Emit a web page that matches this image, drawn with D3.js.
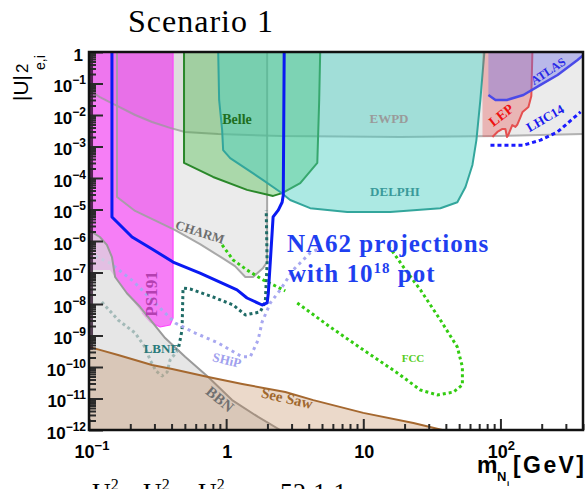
<!DOCTYPE html>
<html>
<head>
<meta charset="utf-8">
<script src="https://cdn.jsdelivr.net/npm/d3@7"></script>
<style>
  body { margin: 0; background: #fff; }
  svg { display: block; }
  .serif { font-family: "Liberation Serif", "Times New Roman", serif; font-weight: bold; }
  .sans { font-family: "Liberation Sans", Arial, sans-serif; font-weight: bold; }
</style>
</head>
<body>
<svg id="chart" width="587" height="489"></svg>
<script>
// all points are [mass in GeV, |U|^2]
const ewpdEdge = [[0.1,0.062],[0.12,0.037],[0.155,0.021],[0.217,0.01],[0.288,6e-3],[0.39,3.9e-3],[0.5,2.9e-3],[0.875,2.5e-3],[2.5,2.15e-3],[18.6,2e-3],[100,2.15e-3],[400,2.5e-3]];
const charmEdge = [[0.16,1],[0.16,2.5e-5],[0.217,9e-6],[0.425,2.2e-6],[0.645,8e-7],[0.935,2.9e-7],[1.16,1.6e-7],[1.38,7.2e-8],[1.57,7.2e-8],[1.86,1.4e-7],[1.99,2.15e-7],[1.99,1]];
const ps191Edge = [[0.41,1],[0.41,3.6e-9],[0.39,2.15e-9],[0.33,1.86e-9],[0.279,2.7e-9],[0.244,5.2e-9],[0.189,2.2e-8],[0.155,7.2e-8],[0.142,1.2e-7],[0.1,1.2e-7]];
const bbnEdge = [[0.1,2.2e-6],[0.12,1.34e-6],[0.135,7.5e-7],[0.147,3.1e-7],[0.155,7.2e-8],[0.189,2.2e-8],[0.236,8e-9],[0.359,8.3e-10],[0.502,2.1e-10],[0.74,4.8e-11],[1.105,8.9e-12],[1.71,2.6e-12],[2.48,1e-12]];
const seeSawEdge = [[0.1,4.3e-10],[0.12,3.5e-10],[0.163,2.4e-10],[0.288,1.16e-10],[0.404,8.6e-11],[0.74,4.8e-11],[1.31,2.9e-11],[2.7,1.6e-11],[4.32,8.9e-12],[10,3.5e-12],[23.2,1.67e-12],[37.7,1e-12]];
const belleEdge = [[0.493,1],[0.493,3e-4],[0.803,1.08e-4],[1.42,4.2e-5],[2.2,2.7e-5],[2.56,3.3e-5],[3.47,6.9e-5],[4.62,3e-4],[4.77,0.03],[4.85,1]];
const delphiEdge = [[0.875,1],[0.889,0.03],[0.935,3.3e-3],[0.951,7.7e-4],[1.07,4.3e-4],[1.86,8.6e-5],[2.48,3.6e-5],[2.93,2e-5],[4.1,1.1e-5],[7.64,8.3e-6],[15.7,8.3e-6],[36.5,1.1e-5],[48.5,1.7e-5],[55.6,5.2e-5],[62.5,2.6e-4],[66.8,1.6e-3],[71.4,0.03],[76.4,1]];
const lepEdge = [[171,1],[168,0.04],[160,0.018],[145,0.0125],[140,8.6e-3],[133,5e-3],[128.6,4.2e-3],[122,4.8e-3],[114,2.3e-3],[111.6,2e-3],[108.7,3.6e-3],[103.5,3.6e-3],[95,2.9e-3],[87.5,2e-3],[74,2e-3]];
const atlasEdge = [[81.7,0.043],[92,0.03],[111.6,0.03],[147,0.043],[196,0.09],[261,0.186],[365,0.557],[400,0.78]];
const lhc14Line = [[84.6,1.1e-3],[147,1.1e-3],[196,1.6e-3],[261,2.9e-3],[384,0.0125]];
const na62Line = [[0.147,1],[0.147,5.8e-6],[0.206,1.34e-6],[0.288,5.6e-7],[0.41,2.15e-7],[0.645,9.6e-8],[0.935,4.6e-8],[1.2,2.8e-8],[1.42,1.55e-8],[1.83,9.3e-9],[1.99,1.08e-8],[2.03,2.2e-8],[2.17,2.2e-6],[2.2,5.8e-6],[2.4,9.6e-6],[2.56,1.7e-5],[2.61,2.9e-5],[2.65,1]];
const shipLine = [[0.1,4.2e-7],[0.142,2e-7],[0.209,5.4e-8],[0.313,9.3e-9],[0.425,2.5e-9],[0.594,1.2e-9],[0.875,5.8e-10],[1.31,2.1e-10],[1.5,2.1e-10],[1.71,7.2e-10],[1.83,2.7e-9],[2.1,1.08e-8],[2.48,2.8e-8],[3.08,1.2e-7],[4.1,4.2e-7],[4.7,5.6e-7]];
const lbnfLine = [[0.124,1.16e-8],[0.163,3.1e-9],[0.217,1.2e-9],[0.256,4.3e-10],[0.279,1.67e-10],[0.308,7.5e-11],[0.341,5.2e-11],[0.371,6.9e-11],[0.39,1.67e-10],[0.447,3.5e-10],[0.477,1.5e-9],[0.485,3.2e-8],[0.546,3e-8],[0.803,1.67e-8],[1.125,9.3e-9],[1.38,4.5e-9],[1.77,5.6e-9],[1.93,1.16e-8],[1.99,2e-7],[1.96,9.6e-6]];
const fccUpper = [[0.935,7.5e-7],[1.125,2.5e-7],[1.42,1.2e-7],[1.86,5.8e-8],[2.36,3.5e-8],[2.7,2.6e-8]];
const fccLoop = [[3.3,1.08e-8],[5.74,1.86e-9],[10,3.5e-10],[17.7,6.5e-11],[26.1,1.86e-11],[34.7,1.3e-11],[45.4,1.6e-11],[52.8,2.7e-11],[52.8,1e-10],[48.5,4.3e-10],[36.5,3.1e-9],[26.1,2.8e-8],[19.6,1.5e-7],[15.7,6e-7]];
const pienuStrip = [[0.1,1],[0.107,1],[0.107,3.5e-10],[0.1,3.5e-10]];

const xTickExps = [-1, 0, 1, 2];
const yTickExps = [0, -1, -2, -3, -4, -5, -6, -7, -8, -9, -10, -11, -12];

const svg = d3.select("#chart");
const x = d3.scaleLog().domain([0.1, 400]).range([89, 583]);
const y = d3.scaleLog().domain([1e-12, 1]).range([430, 52]);
const [mMin, mMax] = x.domain();
const [uMin, uMax] = y.domain();

const line = d3.line().x(function(d) { return x(d[0]); }).y(function(d) { return y(d[1]); });

svg.append("clipPath").attr("id", "plotClip")
    .append("rect")
    .attr("x", x(mMin)).attr("y", y(uMax))
    .attr("width", x(mMax) - x(mMin)).attr("height", y(uMin) - y(uMax));

const plot = svg.append("g").attr("clip-path", "url(#plotClip)");

function closeToTop(pts) {
    return pts.concat([[pts[pts.length - 1][0], uMax], [pts[0][0], uMax]]);
}

function fillArea(pts, color, opacity) {
    plot.append("path")
        .attr("d", line(pts) + "Z")
        .attr("fill", color)
        .attr("fill-opacity", opacity)
        .attr("stroke", "none");
}

function strokeLine(pts, color, w, dash, opacity) {
    const p = plot.append("path")
        .attr("d", line(pts))
        .attr("fill", "none")
        .attr("stroke", color)
        .attr("stroke-width", w)
        .attr("stroke-linejoin", "round")
        .attr("stroke-opacity", opacity || 1);
    if (dash) p.attr("stroke-dasharray", dash).attr("stroke-linecap", "butt");
    return p;
}

// grey regions (EWPD, CHARM) first, PS191 over them
fillArea(closeToTop(ewpdEdge), "rgb(190,190,190)", 0.3);
fillArea(charmEdge, "rgb(190,190,190)", 0.3);
fillArea(closeToTop(ps191Edge), "rgb(240,40,240)", 0.6);
strokeLine(ps191Edge.slice(0, 6), "#ff44ff", 1.2);
strokeLine(ewpdEdge, "#9a9a9a", 2, null, 0.75);
strokeLine(charmEdge, "#a0a0a0", 2, null, 0.9);

// Belle and DELPHI
fillArea(belleEdge, "rgb(40,180,40)", 0.33);
strokeLine(belleEdge, "#2a882a", 2);
fillArea(delphiEdge, "rgb(71,206,193)", 0.45);
strokeLine(delphiEdge, "#33a69c", 2);

// LEP and ATLAS
fillArea(closeToTop(lepEdge), "rgb(230,80,80)", 0.35);
strokeLine(lepEdge.slice(0, 14), "#e45050", 2);
fillArea(closeToTop(atlasEdge), "rgb(110,110,230)", 0.4);
strokeLine(atlasEdge, "#4a4ae8", 2.5);

// projected sensitivities
strokeLine(lhc14Line, "#1a1aff", 3, "4,3");
strokeLine(lbnfLine, "#1f6b66", 3, "3,3");
strokeLine(shipLine, "#a8a8f0", 3, "3,4");
strokeLine(fccUpper, "#33cc11", 3, "3,3");
strokeLine(fccLoop, "#33cc11", 3, "3,3");

// BBN on top, mutes what is beneath
fillArea(bbnEdge.concat([[mMin, uMin]]), "rgb(220,220,220)", 0.7);
strokeLine(bbnEdge, "#9a9a9a", 2);

// see saw
fillArea(seeSawEdge.concat([[mMin, uMin]]), "rgb(190,130,80)", 0.3);
strokeLine(seeSawEdge, "#a5682f", 2);

// NA62
strokeLine(na62Line, "#0a1af2", 3);

fillArea(pienuStrip, "#1a001a", 0.72);

// axes (ticks inward)
function minorTicks(lo, hi, maxV) {
    const out = [];
    for (let k = lo; k <= hi; k++) {
        for (let j = 2; j <= 9; j++) {
            const v = j * Math.pow(10, k);
            if (v <= maxV) out.push(v);
        }
    }
    return out;
}

const axisG = svg.append("g");
axisG.append("g").attr("transform", `translate(${x(mMin)},0)`)
    .call(d3.axisLeft(y).tickValues(yTickExps.map(function(e) { return Math.pow(10, e); })).tickSize(-14).tickFormat(""));
axisG.append("g").attr("transform", `translate(${x(mMin)},0)`)
    .call(d3.axisLeft(y).tickValues(minorTicks(-12, -1, 1)).tickSize(-7).tickFormat(""));
axisG.append("g").attr("transform", `translate(0,${y(uMin)})`)
    .call(d3.axisBottom(x).tickValues(xTickExps.map(function(e) { return Math.pow(10, e); })).tickSize(-11).tickFormat(""));
axisG.append("g").attr("transform", `translate(0,${y(uMin)})`)
    .call(d3.axisBottom(x).tickValues(minorTicks(-1, 2, mMax)).tickSize(-6).tickFormat(""));
axisG.selectAll(".domain").remove();
axisG.selectAll(".tick line").attr("stroke", "#2a2a2a").attr("stroke-width", 2);

svg.append("rect")
    .attr("x", x(mMin)).attr("y", y(uMax))
    .attr("width", x(mMax) - x(mMin)).attr("height", y(uMin) - y(uMax))
    .attr("fill", "none").attr("stroke", "#111").attr("stroke-width", 2.5);

// tick labels
function addPowerLabel(t, e, supSize) {
    if (e === 0) { t.text("1"); return; }
    if (e === 1) { t.text("10"); return; }
    t.append("tspan").text("10");
    t.append("tspan").attr("font-size", supSize).attr("dy", -8).text(String(e).replace("-", "\u2212"));
}

yTickExps.forEach(function(e) {
    const t = svg.append("text").attr("class", "sans")
        .attr("x", e === 0 ? 83 : 86)
        .attr("y", y(Math.pow(10, e)) + (e === 0 ? 9 : 8.5))
        .attr("text-anchor", "end")
        .attr("font-size", 17);
    addPowerLabel(t, e, 12);
});

xTickExps.forEach(function(e) {
    const t = svg.append("text").attr("class", "sans")
        .attr("x", x(Math.pow(10, e)) + (e < 0 ? 3 : 1))
        .attr("y", 458)
        .attr("text-anchor", "middle")
        .attr("font-size", 18);
    addPowerLabel(t, e, 13);
});

// axis titles
const xl = svg.append("text").attr("class", "sans").attr("font-size", 23);
xl.append("tspan").attr("x", 477).attr("y", 473).text("m");
xl.append("tspan").attr("x", 497).attr("y", 481).attr("font-size", 13).text("N");
xl.append("tspan").attr("x", 507).attr("y", 486).attr("font-size", 8).text("i");
xl.append("tspan").attr("x", 513).attr("y", 473).attr("textLength", 71).text("[GeV]");

const yl = svg.append("text")
    .attr("transform", "translate(28,101) rotate(-90)")
    .attr("font-family", "'Liberation Sans', Arial, sans-serif");
yl.append("tspan").attr("x", 0).attr("y", 0).attr("font-size", 21).text("|U|");
yl.append("tspan").attr("x", 28).attr("y", 0).attr("font-size", 17).text("2");
yl.append("tspan").attr("x", 31).attr("y", 17).attr("font-size", 14).text("e,i");

svg.append("text")
    .attr("x", 128).attr("y", 32)
    .attr("font-family", "'Liberation Serif', 'Times New Roman', serif")
    .attr("font-size", 32)
    .attr("letter-spacing", 1)
    .text("Scenario 1");

// cut-off ratio line at the bottom
const ratio = svg.append("text")
    .attr("font-family", "'Liberation Serif', 'Times New Roman', serif")
    .attr("font-size", 26).attr("y", 501);
[["U", 92, "e"], ["U", 143, "\u03bc"], ["U", 198, "\u03c4"]].forEach(function(r) {
    ratio.append("tspan").attr("x", r[1]).attr("y", 501).text(r[0]);
    ratio.append("tspan").attr("font-size", 16).attr("dy", -11).text("2");
    ratio.append("tspan").attr("font-size", 16).attr("dy", 16).text(r[2]);
});
ratio.append("tspan").attr("x", 246).attr("y", 501).text("=");
ratio.append("tspan").attr("x", 280).attr("y", 501).text("52:1:1");

// region labels
function label(txt, px, py, size, color, rot) {
    return svg.append("text").attr("class", "serif")
        .attr("transform", `translate(${px},${py}) rotate(${rot || 0})`)
        .attr("text-anchor", "middle")
        .attr("dy", "0.35em")
        .attr("font-size", size)
        .attr("fill", color)
        .text(txt);
}

label("Belle", 237, 119, 14, "#1e6e1e");
label("EWPD", 389, 118, 13, "#9a9a9a");
label("DELPHI", 395, 191, 13, "#3a9a9a");
label("CHARM", 200, 232, 13, "#6e6e6e", 18);
label("PS191", 151, 294, 17, "#b440b0", -90);
label("LBNF", 161, 348, 13, "#2a7a7a");
label("SHiP", 227, 360, 13, "#a0a0ee", 14);
label("BBN", 220, 399, 15, "#707070", 40);
label("See Saw", 287, 398, 15, "#a0682e", 13);
label("FCC", 413, 358, 11, "#55cc22");
label("LEP", 501, 115, 14, "#ee1111", -38);
label("ATLAS", 548, 71, 12, "#2a2ae6", -33);
label("LHC14", 545, 118, 13, "#1a1aee", -30);

const na1 = svg.append("text").attr("class", "serif")
    .attr("x", 287).attr("y", 252)
    .attr("font-size", 25).attr("letter-spacing", 1)
    .attr("fill", "#1f3ff0")
    .text("NA62 projections");
const na2 = svg.append("text").attr("class", "serif")
    .attr("x", 288).attr("y", 282)
    .attr("font-size", 25).attr("letter-spacing", 1)
    .attr("fill", "#1f3ff0");
na2.append("tspan").text("with 10");
na2.append("tspan").attr("font-size", 15).attr("dy", -9).text("18");
na2.append("tspan").attr("dy", 9).text(" pot");
</script>
</body>
</html>
